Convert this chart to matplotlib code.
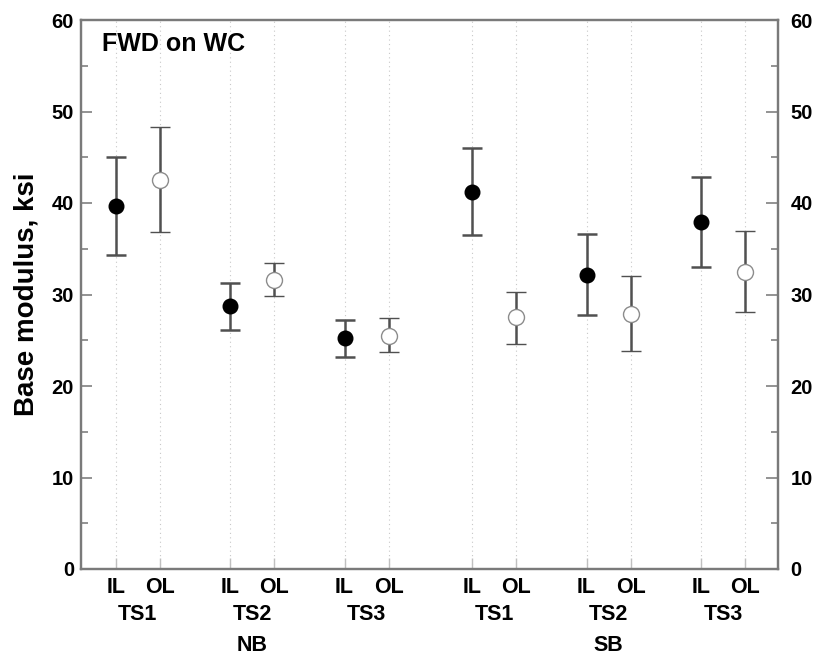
import matplotlib
matplotlib.use("Agg")
import matplotlib.pyplot as plt
from matplotlib.ticker import MultipleLocator
import numpy as np

plt.rcParams['font.family'] = ['Liberation Sans', 'DejaVu Sans']
plt.rcParams['font.weight'] = 'bold'

# ---- data ----
directions = ["NB", "SB"]
sections = ["TS1", "TS2", "TS3", "TS1", "TS2", "TS3"]
lanes = ["IL", "OL"]

il_mean  = [39.7, 28.7, 25.2, 41.2, 32.1, 37.9]
il_upper = [45.0, 31.3, 27.2, 46.0, 36.6, 42.8]
il_lower = [34.3, 26.1, 23.2, 36.5, 27.8, 33.0]

ol_mean  = [42.5, 31.6, 25.5, 27.5, 27.9, 32.5]
ol_upper = [48.3, 33.4, 27.4, 30.3, 32.0, 36.9]
ol_lower = [36.8, 29.8, 23.7, 24.6, 23.8, 28.1]

# ---- layout ----
group_start = np.array([0.0, 2.6, 5.2, 8.1, 10.7, 13.3])
x_il = group_start
x_ol = group_start + 1.0

fig = plt.figure(figsize=(8.17, 6.60), dpi=100)
ax = fig.add_axes([81/817, 91/660, 697/817, 549/660])

ax.set_xlim(-0.79, 15.05)
ax.set_ylim(0, 60)

err_color = '#505050'
il_err = [np.array(il_mean) - np.array(il_lower), np.array(il_upper) - np.array(il_mean)]
ol_err = [np.array(ol_mean) - np.array(ol_lower), np.array(ol_upper) - np.array(ol_mean)]

ax.errorbar(x_il, il_mean, yerr=il_err, fmt='o', color='black', ms=10.5,
            ecolor=err_color, elinewidth=1.8, capsize=7, capthick=1.8, zorder=3)
ax.errorbar(x_ol, ol_mean, yerr=ol_err, fmt='o', mfc='white', mec='#8c8c8c', mew=1.0, ms=11.5,
            ecolor=err_color, elinewidth=1.8, capsize=7, capthick=1.8, zorder=3)

# x ticks / grid
xt = np.sort(np.concatenate([x_il, x_ol]))
ax.set_xticks(xt)
ax.set_xticklabels([])
ax.xaxis.grid(True, linestyle=(0, (1, 3)), color='#c8c8c8', linewidth=0.8)
ax.tick_params(axis='x', direction='in', length=8, color='#c0c0c0', width=1)

# y ticks
ax.yaxis.set_major_locator(MultipleLocator(10))
ax.yaxis.set_minor_locator(MultipleLocator(5))
ax.tick_params(axis='y', which='major', direction='in', length=8, width=1.2, color='#808080',
               labelsize=14.5, pad=5)
ax.tick_params(axis='y', which='minor', direction='in', length=5, width=1.2, color='#808080')
for lab in ax.get_yticklabels():
    lab.set_fontweight('bold')

ax2 = ax.twinx()
ax2.set_ylim(0, 60)
ax2.yaxis.set_major_locator(MultipleLocator(10))
ax2.yaxis.set_minor_locator(MultipleLocator(5))
ax2.tick_params(axis='y', which='major', direction='in', length=9, width=1.2, color='#808080',
                labelsize=14.5, pad=9)
ax2.tick_params(axis='y', which='minor', direction='in', length=5, width=1.2, color='#808080')
for lab in ax2.get_yticklabels():
    lab.set_fontweight('bold')

for a in (ax, ax2):
    for s in a.spines.values():
        s.set_color('#7a7a7a')
        s.set_linewidth(1.6)

ax.set_ylabel("Base modulus, ksi", fontsize=20, fontweight='bold', labelpad=9)

# category labels
for xi, xo in zip(x_il, x_ol):
    ax.annotate(lanes[0], xy=(xi, 0), xycoords=('data', 'axes fraction'),
                xytext=(0, -13.5), textcoords='offset points', ha='center', va='center',
                fontsize=15.5, fontweight='bold')
    ax.annotate(lanes[1], xy=(xo, 0), xycoords=('data', 'axes fraction'),
                xytext=(0, -13.5), textcoords='offset points', ha='center', va='center',
                fontsize=15.5, fontweight='bold')
for i, name in enumerate(sections):
    ax.annotate(name, xy=((x_il[i] + x_ol[i]) / 2, 0), xycoords=('data', 'axes fraction'),
                xytext=(0, -33), textcoords='offset points', ha='center', va='center',
                fontsize=15.5, fontweight='bold')
for j, name in enumerate(directions):
    k = 3 * j + 1
    ax.annotate(name, xy=((x_il[k] + x_ol[k]) / 2, 0), xycoords=('data', 'axes fraction'),
                xytext=(0, -55), textcoords='offset points', ha='center', va='center',
                fontsize=15.5, fontweight='bold')

ax.text(0.030, 0.956, "FWD on WC", transform=ax.transAxes, ha='left', va='center',
        fontsize=18, fontweight='bold')

fig.savefig("out.png", dpi=100)
